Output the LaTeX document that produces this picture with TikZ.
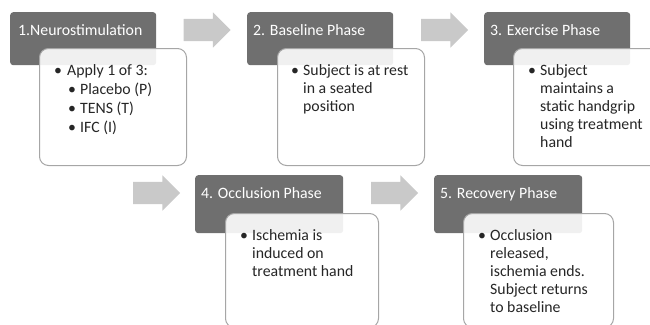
\documentclass[tikz,border=0pt]{standalone}
\usepackage{fontspec}
\setmainfont{Carlito}
\usepackage{tikz}
\usetikzlibrary{shapes.arrows, positioning, calc}

\definecolor{headgray}{HTML}{6F6F6F}
\definecolor{arrowgray}{HTML}{C9C9C9}
\definecolor{framegray}{HTML}{A6A6A6}
\definecolor{inkgray}{HTML}{262626}

% lines of a card, baseline on the first line
\newcommand{\cardlines}[1]{\begin{tabular}[t]{@{}l@{}}#1\end{tabular}}

\begin{document}
\begin{tikzpicture}[
        x=1pt, y=-1pt,
        head/.style={rectangle, rounded corners=3pt, fill=headgray, inner sep=0pt, anchor=north west},
        card/.style={rectangle, rounded corners=9pt, draw=framegray, line width=1pt, fill=white, fill opacity=0.9, inner sep=0pt, anchor=north west},
        headtext/.style={anchor=base west, inner sep=0pt, text=white, font=\fontsize{15.8}{18}\selectfont},
        bodytext/.style={anchor=base west, inner sep=0pt, text=inkgray, font=\fontsize{15.8}{18}\selectfont},
        flow/.style={single arrow, fill=arrowgray, inner xsep=0pt, inner ysep=11pt, single arrow head extend=6.5pt, minimum height=47pt}
    ]
    \clip (0,0) rectangle (650,324);

    % Phase headers
    \node[head, minimum width=146pt, minimum height=53pt] (h1) at (10,12) {};
    \node[head, minimum width=146pt, minimum height=53pt] (h2) at (247,12) {};
    \node[head, minimum width=146pt, minimum height=53pt] (h3) at (484,12) {};
    \node[head, minimum width=148pt, minimum height=58pt] (h4) at (195,175) {};
    \node[head, minimum width=148pt, minimum height=58pt] (h5) at (434,175) {};

    \node[headtext] (ht1) at ($(h1.north west)+(8,23.5)$) {1.Neurostimulation};
    \node[headtext] (ht2) at ($(h2.north west)+(6,23.5)$) {2. Baseline Phase};
    \node[headtext] (ht3) at ($(h3.north west)+(6,23.5)$) {3. Exercise Phase};
    \node[headtext] (ht4) at ($(h4.north west)+(6,23.5)$) {4. Occlusion Phase};
    \node[headtext] (ht5) at ($(h5.north west)+(6,23.5)$) {5. Recovery Phase};

    % Detail cards
    \node[card, minimum width=147pt, minimum height=117pt] (c1) at (39,48) {};
    \node[card, minimum width=147pt, minimum height=117pt] (c2) at (277,48) {};
    \node[card, minimum width=147pt, minimum height=117pt] (c3) at (513,48) {};
    \node[card, minimum width=153pt, minimum height=114pt] (c4) at (225,213) {};
    \node[card, minimum width=150pt, minimum height=114pt] (c5) at (463,213) {};

    % Card texts
    \node[bodytext] (bl1) at ($(c1.north west)+(15,27)$) {\textbullet};
    \node[bodytext] (tx1) at ($(c1.north west)+(28,27)$) {Apply 1 of 3:};
    \node[bodytext] (sb1) at ($(tx1.base west)+(1,19)$) {\cardlines{\textbullet\\[1pt]\textbullet\\[1pt]\textbullet}};
    \node[bodytext] (st1) at ($(tx1.base west)+(13,19)$) {\cardlines{Placebo (P)\\[1pt]TENS (T)\\[1pt]IFC (I)}};

    \node[bodytext] (bl2) at ($(c2.north west)+(14,27)$) {\textbullet};
    \node[bodytext] (tx2) at ($(c2.north west)+(26,27)$) {\cardlines{Subject is at rest\\in a seated\\position}};

    \node[bodytext] (bl3) at ($(c3.north west)+(15,27)$) {\textbullet};
    \node[bodytext] (tx3) at ($(c3.north west)+(27,27)$) {\cardlines{Subject\\maintains a\\static handgrip\\using treatment\\hand}};

    \node[bodytext] (bl4) at ($(c4.north west)+(15,27)$) {\textbullet};
    \node[bodytext] (tx4) at ($(c4.north west)+(27,27)$) {\cardlines{Ischemia is\\induced on\\treatment hand}};

    \node[bodytext] (bl5) at ($(c5.north west)+(15,27)$) {\textbullet};
    \node[bodytext] (tx5) at ($(c5.north west)+(27,27)$) {\cardlines{Occlusion\\released,\\ischemia ends.\\Subject returns\\to baseline}};

    % Flow arrows
    \node[flow] (a1) at (201.5,30) {};
    \node[flow] (a2) at (439,30) {};
    \node[flow] (a3) at (151,193) {};
    \node[flow] (a4) at (389,193) {};

\end{tikzpicture}
\end{document}
